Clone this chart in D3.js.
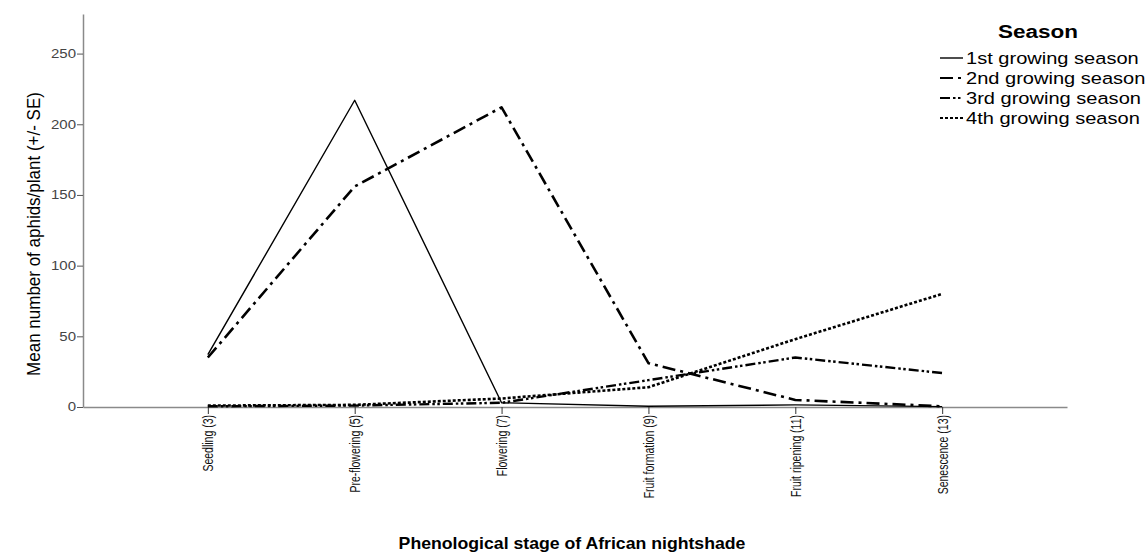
<!DOCTYPE html>
<html>
<head>
<meta charset="utf-8">
<script src="https://cdn.jsdelivr.net/npm/d3@7"></script>
<style>
  html, body { margin: 0; padding: 0; background: #fff; }
  svg { display: block; font-family: "Liberation Sans", Arial, sans-serif; }
</style>
</head>
<body>
<svg id="chart" width="1148" height="553"></svg>
<script>
// Phenological stages (x categories)
const stages = ["Seedling (3)", "Pre-flowering (5)", "Flowering (7)",
                "Fruit formation (9)", "Fruit ripening (11)", "Senescence (13)"];

// Mean aphids per plant for each growing season
const season1 = [37, 217, 3, 0.5, 1.5, 0.3];
const season2 = [35, 156, 212, 31, 5, 0.5];
const season3 = [0.5, 1, 3, 19, 35, 24];
const season4 = [1, 1.5, 6, 14, 48, 80];

const seasonNames = ["1st growing season", "2nd growing season",
                     "3rd growing season", "4th growing season"];
const yTicks = [0, 50, 100, 150, 200, 250];

const series = [
  { name: seasonNames[0], values: season1, dash: null,                 width: 1.4 },
  { name: seasonNames[1], values: season2, dash: "13,5,3,5",           width: 2.6 },
  { name: seasonNames[2], values: season3, dash: "10,3,2.5,2.5,2.5,3", width: 2.4 },
  { name: seasonNames[3], values: season4, dash: "3,2",                width: 2.6 }
];

// Text in this chart is set slightly wide
const WIDE = 1.25;

const svg = d3.select("#chart");

const x = d3.scalePoint().domain(stages).range([83, 1067]).padding(0.85);
const y = d3.scaleLinear().domain([0, 278]).range([407, 14]);

// Y axis
const yAxis = svg.append("g")
  .attr("transform", "translate(83,0)")
  .call(d3.axisLeft(y).tickValues(yTicks).tickSize(6).tickSizeOuter(0));
yAxis.select(".domain").attr("stroke", "#8a8a8a").attr("stroke-width", 1.5);
yAxis.selectAll(".tick line").attr("stroke", "#555").attr("stroke-width", 1);
yAxis.selectAll(".tick text")
  .attr("fill", "#444")
  .style("font-size", "12px")
  .attr("x", null)
  .attr("transform", `translate(-7,0) scale(${WIDE},1)`);

// X axis
const xAxis = svg.append("g")
  .attr("transform", "translate(0,407)")
  .call(d3.axisBottom(x).tickSize(7).tickSizeOuter(0));
xAxis.select(".domain").attr("stroke", "#8a8a8a").attr("stroke-width", 1.5);
xAxis.selectAll(".tick line").attr("stroke", "#333").attr("stroke-width", 1);
xAxis.selectAll(".tick text")
  .attr("fill", "#111")
  .style("font-size", "10.5px")
  .attr("text-anchor", "end")
  .attr("dy", null)
  .attr("y", 0)
  .attr("transform", "translate(5,8) scale(1.45,1) rotate(-90)");

// Axis titles
svg.append("text")
  .attr("transform", "translate(40,234) scale(1.1,1) rotate(-90)")
  .attr("text-anchor", "middle")
  .style("font-size", "17px")
  .attr("fill", "#000")
  .text("Mean number of aphids/plant (+/- SE)");

svg.append("text")
  .attr("transform", "translate(572,549) scale(1.04,1)")
  .attr("text-anchor", "middle")
  .style("font-size", "17px").style("font-weight", "bold")
  .attr("fill", "#000")
  .text("Phenological stage of African nightshade");

// Season lines
const line = d3.line()
  .x((d, i) => x(stages[i]))
  .y(d => y(d));

svg.append("g").selectAll("path")
  .data(series)
  .join("path")
  .attr("d", d => line(d.values))
  .attr("fill", "none")
  .attr("stroke", "#000")
  .attr("stroke-width", d => d.width)
  .attr("stroke-dasharray", d => d.dash)
  .attr("stroke-linejoin", "round");

// Legend
const legend = svg.append("g");
legend.append("text")
  .attr("transform", `translate(1038,38) scale(${WIDE},1)`)
  .attr("text-anchor", "middle")
  .style("font-size", "18px").style("font-weight", "bold")
  .text("Season");

const rows = legend.selectAll("g.row")
  .data(series)
  .join("g")
  .attr("class", "row")
  .attr("transform", (d, i) => `translate(940,${58 + i * 20})`);

rows.append("line")
  .attr("x1", 0).attr("x2", 23)
  .attr("y1", 0).attr("y2", 0)
  .attr("stroke", "#000")
  .attr("stroke-width", d => Math.min(d.width, 2))
  .attr("stroke-dasharray", d => d.dash);

rows.append("text")
  .attr("transform", "translate(26,0) scale(1.18,1)")
  .attr("dy", "0.35em")
  .style("font-size", "17px")
  .text(d => d.name);
</script>
</body>
</html>
